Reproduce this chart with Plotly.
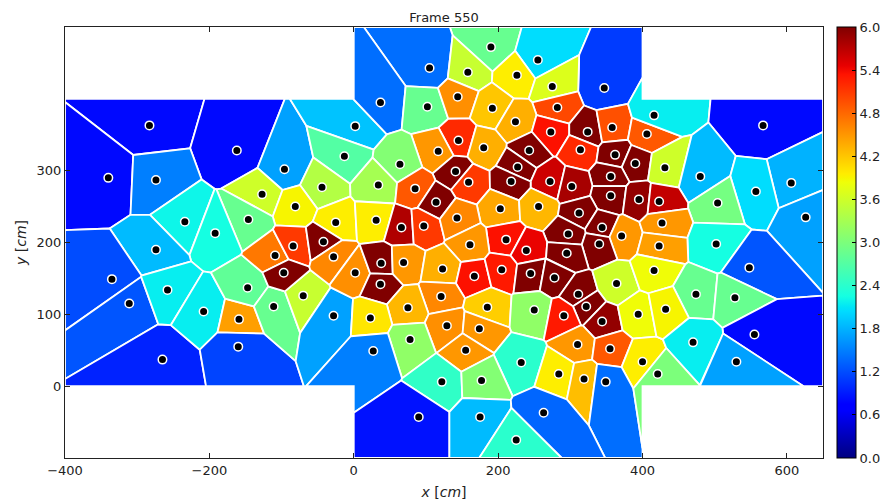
import numpy as np
import plotly.graph_objects as go

# ---------------- data ----------------
# pedestrian positions [cm] and Voronoi density [m^-2]
# west wing
west_x = [-283, -162, -340, -274, -96, 2, -13, -44, -127, -81, -25, -146, -234, -192, -274, -335,
          -311, -265, -258, -208, -159, -160, -147, -111, -70, -28, -109, -84, -97, -42, -28, 2]
west_y = [363, 328, 290, 287, 302, 362, 320, 277, 267, 250, 228, 232, 229, 213, 190, 149,
          115, 37, 134, 104, 93, 55, 137, 111, 126, 98, 182, 195, 158, 201, 180, 158]
west_d = [0.8, 0.8, 0.8, 1.5, 1.7, 1.9, 2.7, 3.4, 3.6, 3.9, 3.95, 2.85, 2.2, 2.25, 1.85, 1.2,
          1.25, 0.95, 2.15, 2.15, 4.45, 1.15, 2.8, 2.85, 3.55, 1.7, 4.7, 5.1, 6.0, 6.0, 4.6, 4.55]

# central corridor
centre_x = [190, 255, 105, 158, 226, 347, 275, 37, 102, 144, 192, 282, 224, 273, 324, 358,
            406, 145, 117, 180, 243, 314, 362, 390, 64, 227, 141, 356, 272, 302, 159, 218,
            34, 85, 356, 395, 114, 203, 256, 312, 31, 66, 97, 143, 344, 371, 297, 211,
            161, 340, 239, 295, 38, 69, 123, 167, 205, 245, 278, 37, 121, 311, 364, 75,
            185, 250, 322, 291, 344, 394, 23, 129, 174, 78, 310, 355, 27, 155, 232, 400,
            284, 319, 349, 122, 177, 90, 175, 263, 225]
centre_y = [472, 454, 443, 437, 433, 415, 417, 395, 389, 403, 387, 388, 368, 354, 354, 360,
            351, 342, 327, 332, 328, 329, 322, 310, 309, 305, 299, 292, 285, 278, 284, 285,
            280, 275, 265, 260, 256, 247, 250, 241, 231, 221, 223, 234, 221, 209, 212, 204,
            197, 198, 189, 185, 171, 172, 163, 153, 162, 157, 151, 142, 125, 128, 143, 109,
            110, 106, 111, 98, 90, 100, 95, 84, 80, 65, 58, 52, 49, 50, 33, 34,
            17, 10, 6, 6, 8, -43, -43, -37, -75]
centre_d = [2.85, 2.05, 1.4, 3.55, 3.95, 1.1, 3.7, 1.4, 2.85, 4.55, 4.2, 5.0, 4.35, 5.35, 6.0, 4.95,
            4.9, 5.2, 4.5, 4.35, 6.0, 5.2, 6.0, 6.0, 3.05, 6.0, 6.0, 6.0, 5.6, 5.8, 5.1, 6.0,
            3.3, 4.9, 6.0, 5.9, 6.0, 4.4, 4.3, 6.0, 3.95, 5.75, 5.1, 4.6, 6.0, 4.5, 6.0, 5.35,
            4.5, 6.0, 5.45, 6.0, 6.0, 4.5, 4.35, 5.35, 5.3, 6.0, 6.0, 6.0, 4.6, 6.0, 3.6, 4.3,
            4.15, 3.15, 6.0, 5.3, 5.9, 3.85, 4.0, 4.55, 4.5, 3.15, 4.5, 4.9, 1.5, 4.5, 2.4, 3.95,
            3.95, 4.25, 1.4, 2.45, 3.05, 0.85, 1.85, 1.35, 2.4]

# east wing
east_x = [416, 567, 431, 480, 606, 557, 423, 504, 626, 427, 502, 423, 548, 416, 474, 528,
          432, 555, 470, 530, 421]
east_y = [377, 363, 304, 292, 283, 271, 257, 255, 235, 227, 198, 195, 165, 161, 128, 123,
          107, 72, 61, 34, 17]
east_d = [2.15, 0.8, 3.6, 1.85, 1.8, 2.05, 5.65, 2.95, 1.7, 4.5, 2.25, 4.45, 1.25, 3.85, 2.85, 2.85,
          3.9, 0.8, 2.15, 1.7, 3.0]

# walkable area (cross-shaped corridor junction) [cm]
domain_x = [-400, 0, 0, 400, 400, 650, 650, 400, 400, 0, 0, -400]
domain_y = [0, 0, -100, -100, 0, 0, 400, 400, 500, 500, 400, 400]

x_ticks = [-400, -200, 0, 200, 400, 600]
y_ticks = [0, 100, 200, 300]
cbar_ticks = [0.0, 0.6, 1.2, 1.8, 2.4, 3.0, 3.6, 4.2, 4.8, 5.4, 6.0]
DMIN, DMAX = 0.0, 6.0

# ---------------- matplotlib "jet" colormap ----------------
JET = [(0.0, (0, 0, 128)), (0.11, (0, 0, 255)), (0.125, (0, 0, 255)), (0.34, (0, 219, 255)),
       (0.35, (0, 229, 247)), (0.375, (21, 255, 226)), (0.64, (239, 255, 8)),
       (0.65, (247, 245, 0)), (0.66, (255, 236, 0)), (0.89, (255, 19, 0)),
       (0.91, (232, 0, 0)), (1.0, (128, 0, 0))]
jet_scale = [[t, 'rgb(%d,%d,%d)' % c] for t, c in JET]


def jet_color(v):
    t = min(max((v - DMIN) / (DMAX - DMIN), 0.0), 1.0)
    ts = [s[0] for s in JET]
    rgb = [np.interp(t, ts, [s[1][k] for s in JET]) for k in range(3)]
    return 'rgb(%d,%d,%d)' % tuple(int(round(c)) for c in rgb)


# ---------------- Voronoi cells clipped to the domain ----------------
def clip_halfplane(poly, nx, ny, c):
    out = []
    n = len(poly)
    for k in range(n):
        P = poly[k]
        Q = poly[(k + 1) % n]
        fp = nx * P[0] + ny * P[1] - c
        fq = nx * Q[0] + ny * Q[1] - c
        if fp <= 0:
            out.append(P)
        if (fp < 0 < fq) or (fq < 0 < fp):
            t = fp / (fp - fq)
            out.append((P[0] + t * (Q[0] - P[0]), P[1] + t * (Q[1] - P[1])))
    return out


px = west_x + centre_x + east_x
py = west_y + centre_y + east_y
pd_ = west_d + centre_d + east_d

domain = list(zip(domain_x, domain_y))
cells = []
for i in range(len(px)):
    xi, yi = px[i], py[i]
    poly = domain[:]
    order = sorted(range(len(px)), key=lambda j: (px[j] - xi) ** 2 + (py[j] - yi) ** 2)
    for j in order:
        if j == i:
            continue
        xj, yj = px[j], py[j]
        nx, ny = 2.0 * (xj - xi), 2.0 * (yj - yi)
        c = xj * xj + yj * yj - xi * xi - yi * yi
        poly = clip_halfplane(poly, nx, ny, c)
        if not poly:
            break
    cells.append(poly)

fig = go.Figure()
FONT = 'DejaVu Sans'

for poly, d in zip(cells, pd_):
    if len(poly) < 3:
        continue
    xs = [p[0] for p in poly] + [poly[0][0]]
    ys = [p[1] for p in poly] + [poly[0][1]]
    fig.add_trace(go.Scatter(x=xs, y=ys, mode='lines', fill='toself',
                             fillcolor=jet_color(d),
                             line=dict(color='white', width=1.8),
                             hoverinfo='skip', showlegend=False))

# pedestrians
fig.add_trace(go.Scatter(x=px, y=py, mode='markers', showlegend=False,
                         marker=dict(size=8.5, color='black',
                                     line=dict(color='white', width=1.5))))

# colorbar carrier
fig.add_trace(go.Scatter(
    x=[None], y=[None], mode='markers', showlegend=False, hoverinfo='skip',
    marker=dict(color=[DMIN], cmin=DMIN, cmax=DMAX, colorscale=jet_scale, showscale=True,
                colorbar=dict(
                    thickness=19, thicknessmode='pixels',
                    len=1.0, lenmode='fraction', y=0.5, yanchor='middle',
                    x=1.018, xanchor='left', xpad=0, ypad=0,
                    outlinewidth=1, outlinecolor='black',
                    tickvals=cbar_ticks, ticktext=['%.1f' % v for v in cbar_ticks],
                    ticks='inside', ticklen=4, tickcolor='black',
                    tickfont=dict(family=FONT, size=13, color='#222'),
                    title=dict(text='Density [m<sup>−2</sup>]', side='right',
                               font=dict(family=FONT, size=12, color='#222')),
                ))))

axis_common = dict(showline=True, linecolor='#222', linewidth=1, mirror='ticks',
                   ticks='inside', ticklen=5, tickwidth=1, tickcolor='#222',
                   showgrid=False, zeroline=False, automargin=False,
                   tickfont=dict(family=FONT, size=13, color='#222'))

# the page places the figure 8 px from its top-left corner
W, H = 880, 492
fig.update_layout(
    width=W, height=H,
    margin=dict(l=57, r=65, t=19, b=42, autoexpand=False),
    paper_bgcolor='white', plot_bgcolor='white',
    title=dict(text='Frame 550', x=0.5, xref='paper', xanchor='center',
               y=1 - 9 / H, yref='container', yanchor='middle',
               font=dict(family=FONT, size=13, color='#222')),
    xaxis=dict(range=[-400, 650], tickvals=x_ticks,
               ticktext=[str(v).replace('-', '−') for v in x_ticks],
               title=dict(text='<i>x</i> [<i>cm</i>]', standoff=10,
                          font=dict(family=FONT, size=14, color='#222')),
               **axis_common),
    yaxis=dict(range=[-100, 500], tickvals=y_ticks,
               ticktext=[str(v) for v in y_ticks],
               title=dict(text='<i>y</i> [<i>cm</i>]', standoff=6,
                          font=dict(family=FONT, size=14, color='#222')),
               **axis_common),
)

fig.write_html("out.html")
